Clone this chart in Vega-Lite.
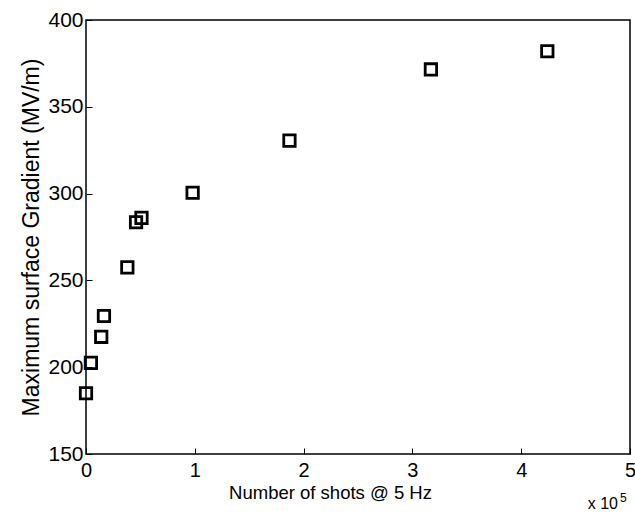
{
  "$schema": "https://vega.github.io/schema/vega-lite/v6.json",
  "autosize": "none",
  "width": 544,
  "height": 434,
  "padding": {"left": 86, "top": 20, "right": 5, "bottom": 58},
  "background": "white",
  "config": {
    "font": "Liberation Sans",
    "view": {"stroke": "black", "strokeWidth": 1.5},
    "axis": {
      "grid": false,
      "domain": false,
      "tickColor": "black",
      "tickSize": -6,
      "tickWidth": 1,
      "labelColor": "black",
      "labelFontSize": 21,
      "labelFlush": false,
      "titleFontWeight": "normal",
      "titleColor": "black"
    }
  },
  "data": {
    "values": [
      {"shots": 0.0, "gradient": 185},
      {"shots": 0.045, "gradient": 202.5},
      {"shots": 0.14, "gradient": 217.5},
      {"shots": 0.165, "gradient": 229.5},
      {"shots": 0.38, "gradient": 257.5},
      {"shots": 0.46, "gradient": 283.5},
      {"shots": 0.51, "gradient": 286},
      {"shots": 0.98, "gradient": 300.5},
      {"shots": 1.87, "gradient": 330.5},
      {"shots": 3.17, "gradient": 371.5},
      {"shots": 4.24, "gradient": 382}
    ]
  },
  "layer": [
    {
      "mark": {"type": "point", "shape": "square", "filled": false, "stroke": "black", "strokeWidth": 2.8, "size": 130, "opacity": 1},
      "encoding": {
        "x": {
          "field": "shots", "type": "quantitative",
          "scale": {"domain": [0, 5], "nice": false, "zero": false},
          "axis": {"values": [0, 1, 2, 3, 4, 5], "format": "d", "title": "Number of shots @ 5 Hz", "titleFontSize": 18.5, "labelFontSize": 20, "labelPadding": 12, "titlePadding": 3, "titleX": 244, "titleAlign": "center"}
        },
        "y": {
          "field": "gradient", "type": "quantitative",
          "scale": {"domain": [150, 400], "nice": false, "zero": false},
          "axis": {"values": [150, 200, 250, 300, 350, 400], "title": "Maximum surface Gradient (MV/m)", "titleFontSize": 23, "labelPadding": 9, "titlePadding": 4}
        }
      }
    },
    {
      "data": {"values": [{"x": 5, "y": 150, "label": "x 10", "sup": "5"}]},
      "layer": [
        {
          "mark": {"type": "text", "fontSize": 16, "dy": 55, "dx": -12, "align": "right", "baseline": "alphabetic", "color": "black"},
          "encoding": {
            "x": {"field": "x", "type": "quantitative"},
            "y": {"field": "y", "type": "quantitative"},
            "text": {"field": "label"}
          }
        },
        {
          "mark": {"type": "text", "fontSize": 12, "dy": 48, "dx": -10, "align": "left", "baseline": "alphabetic", "color": "black"},
          "encoding": {
            "x": {"field": "x", "type": "quantitative"},
            "y": {"field": "y", "type": "quantitative"},
            "text": {"field": "sup"}
          }
        }
      ]
    }
  ]
}
